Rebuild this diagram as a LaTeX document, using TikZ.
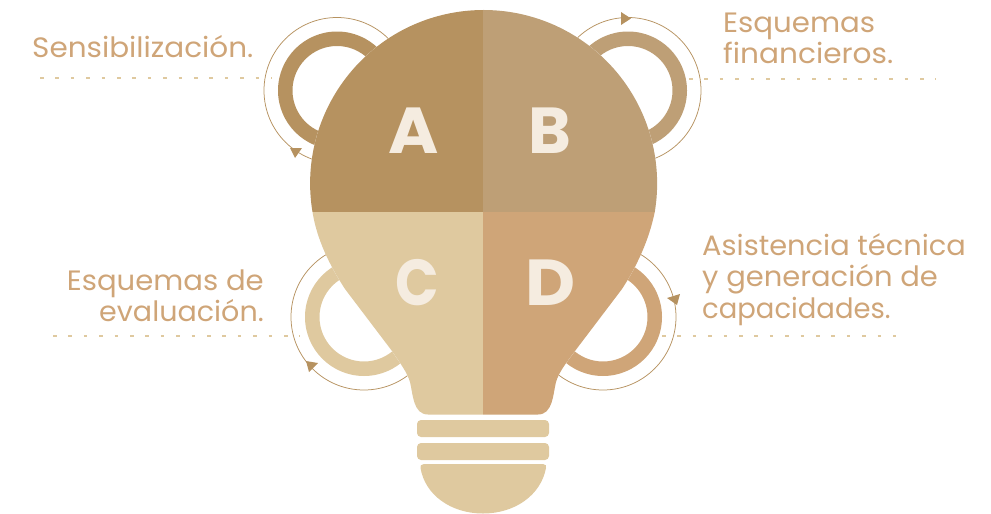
\documentclass[tikz,border=0pt]{standalone}
\usepackage{graphicx}
\usepackage{fontspec}
\setmainfont{Poppins}
\definecolor{colA}{HTML}{B69260}
\definecolor{colB}{HTML}{BE9F76}
\definecolor{colC}{HTML}{DFC99F}
\definecolor{colD}{HTML}{CFA578}
\definecolor{letter}{HTML}{F5ECE0}
\tikzset{
  ringband/.style={fill,even odd rule,draw=none},
  thinring/.style={draw=colA,line width=0.75pt},
  dotline/.style={draw=colC,line width=2.5pt,dash pattern=on 3.5pt off 11.9pt},
  tip/.style={fill=colA,draw=none},
  label/.style={text=colD,font=\fontsize{28}{32}\selectfont,inner sep=0pt,align=left},
  letterbig/.style={text=letter,font=\fontsize{65}{65}\selectfont\bfseries,inner sep=0pt},
  basepart/.style={fill=colC,draw=none}
}
\newcommand{\widen}[2]{\scalebox{#1}[1]{#2}}
\newcommand{\bulbpath}{
  (312.5,212) arc[start angle=170.54,end angle=369.46,radius=173.5]
  .. controls (649,240) and (637,266) .. (622,289)
  -- (575,351)
  .. controls (566,363) and (559,372) .. (556,382)
  .. controls (553,394) and (553,414.5) .. (538,414.5)
  -- (428,414.5)
  .. controls (413,414.5) and (413,394) .. (410,382)
  .. controls (407,372) and (400,363) .. (392,351)
  -- (345,289)
  .. controls (330,266) and (317,240) .. (312.5,212) -- cycle
}
\begin{document}
\begin{tikzpicture}[x=1pt,y=-1pt]
\useasboundingbox (0,0) rectangle (991,514);
% dotted leader lines
\draw[dotline] (40,78) -- (272,78);
\draw[dotline] (689,79) -- (936,79);
\draw[dotline] (53,336) -- (300,336);
\draw[dotline] (662,336) -- (896,336);
% thin rings
\draw[thinring] (337,90.5) circle[radius=73];
\draw[thinring] (628,90.5) circle[radius=73];
\draw[thinring] (364,317) circle[radius=73];
\draw[thinring] (603,317) circle[radius=73];
% bands
\fill[ringband,colA] (337,90.5) circle[radius=59] (337,90.5) circle[radius=44.5];
\fill[ringband,colB] (628,90.5) circle[radius=59] (628,90.5) circle[radius=44.5];
\fill[ringband,colC] (364,317) circle[radius=59] (364,317) circle[radius=44.5];
\fill[ringband,colD] (603,317) circle[radius=59] (603,317) circle[radius=44.5];
% arrowheads
\fill[tip] (290,148) -- (302,148) -- (295,158) -- cycle;
\fill[tip] (621,12) -- (631,18.5) -- (621,25) -- cycle;
\fill[tip] (306,361) -- (318,363) -- (309,372) -- cycle;
\fill[tip] (667,298) -- (680,294) -- (677,305) -- cycle;
% bulb
\fill[white] \bulbpath;
\begin{scope}
\clip \bulbpath;
\fill[colA] (300,0) rectangle (483,212);
\fill[colB] (483,0) rectangle (670,212);
\fill[colC] (300,212) rectangle (483,420);
\fill[colD] (483,212) rectangle (670,420);
\end{scope}
% base
\fill[basepart,rounded corners=4pt] (417,420) rectangle (549,437);
\fill[basepart,rounded corners=4pt] (417,443) rectangle (549,460);
\fill[basepart] (424,464) -- (543,464) .. controls (546,464) and (546.5,466) .. (546,468)
  .. controls (541,495) and (515,513.5) .. (483,513.5)
  .. controls (451,513.5) and (425,495) .. (420.5,468)
  .. controls (420,466) and (421,464) .. (424,464) -- cycle;
% letters
\node[letterbig] (la) at (414,131) {\widen{1.05}{A}};
\node[letterbig] (lb) at (550,131) {B};
\node[letterbig] (lc) at (417,283) {\widen{0.88}{C}};
\node[letterbig] (ld) at (551,283) {\widen{1.06}{D}};
% labels
\node[label,anchor=base west] (t1) at (32,57) {\widen{1.053}{Sensibilización.}};
\node[label,anchor=base west] (t2a) at (723,32) {\widen{1.044}{Esquemas}};
\node[label,anchor=base west] (t2b) at (723,63) {\widen{1.057}{financieros.}};
\node[label,anchor=base east] (t3a) at (264,290) {\widen{1.04}{Esquemas de}};
\node[label,anchor=base east] (t3b) at (264,321) {\widen{1.02}{evaluación.}};
\node[label,anchor=base west] (t4a) at (702,255) {\widen{1.03}{Asistencia técnica}};
\node[label,anchor=base west] (t4b) at (702,286) {\widen{1.035}{y generación de}};
\node[label,anchor=base west] (t4c) at (702,318) {\widen{0.98}{capacidades.}};
\end{tikzpicture}
\end{document}
